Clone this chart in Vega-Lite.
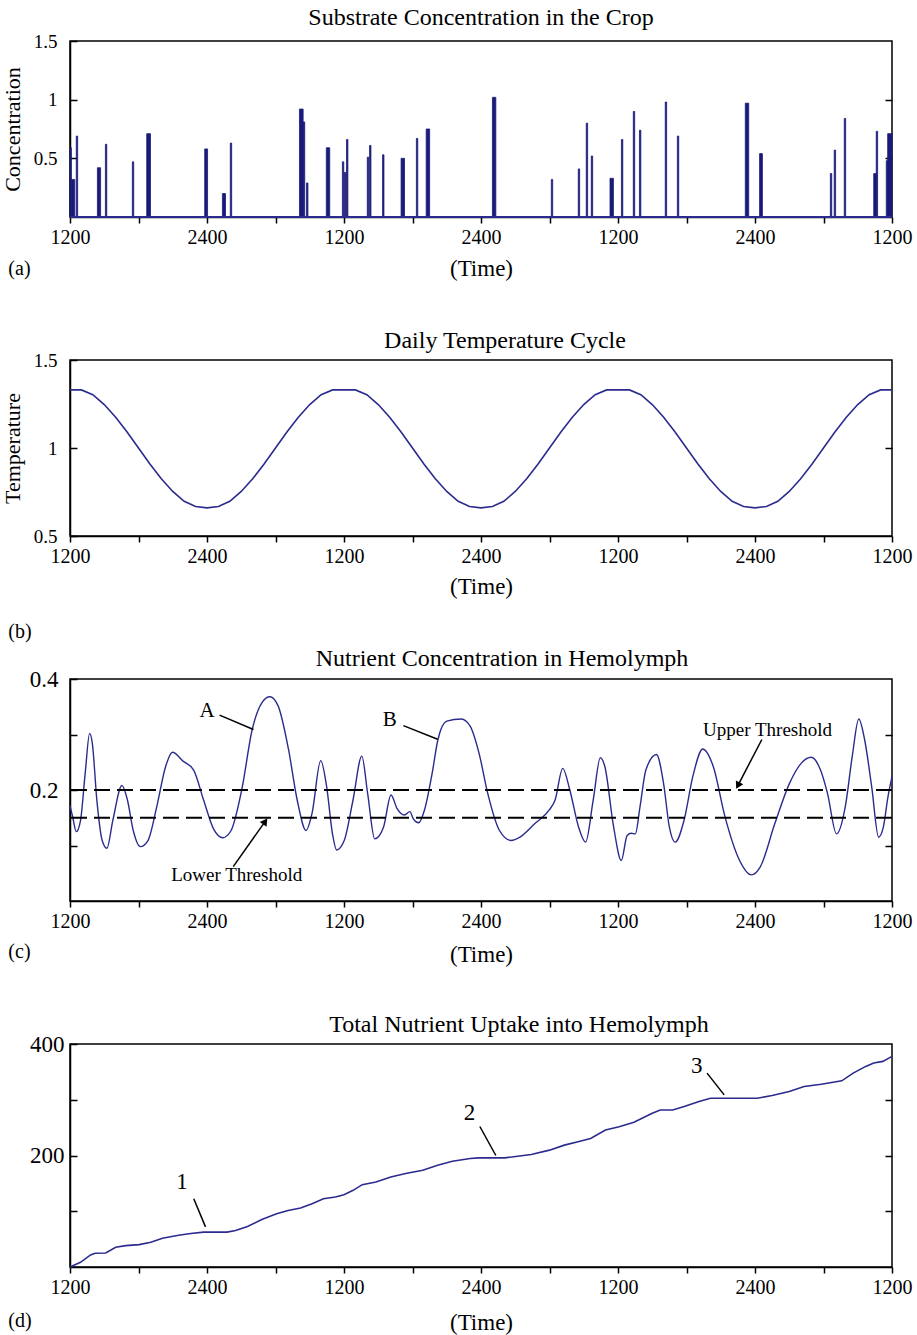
{
  "$schema": "https://vega.github.io/schema/vega-lite/v6.json",
  "background": "white",
  "padding": {"left": 0, "top": 5, "right": 4, "bottom": 2},
  "bounds": "flush",
  "spacing": 143,
  "datasets": {
    "a_bars": [
      {"start": 0.0, "end": 0.12, "c": 0.59}, {"start": 0.12, "end": 0.42, "c": 0.32}, {"start": 0.55, "end": 0.67, "c": 0.69},
      {"start": 2.4, "end": 2.68, "c": 0.42}, {"start": 3.1, "end": 3.22, "c": 0.62}, {"start": 5.46, "end": 5.58, "c": 0.47},
      {"start": 6.72, "end": 7.05, "c": 0.71}, {"start": 11.8, "end": 12.05, "c": 0.58}, {"start": 13.35, "end": 13.62, "c": 0.2},
      {"start": 14.04, "end": 14.16, "c": 0.63}, {"start": 20.1, "end": 20.42, "c": 0.92}, {"start": 20.42, "end": 20.56, "c": 0.81},
      {"start": 20.72, "end": 20.84, "c": 0.29}, {"start": 22.45, "end": 22.75, "c": 0.59}, {"start": 23.86, "end": 23.98, "c": 0.47},
      {"start": 24.04, "end": 24.16, "c": 0.38}, {"start": 24.22, "end": 24.34, "c": 0.66}, {"start": 26.04, "end": 26.16, "c": 0.51},
      {"start": 26.24, "end": 26.36, "c": 0.61}, {"start": 27.38, "end": 27.5, "c": 0.53}, {"start": 29.0, "end": 29.3, "c": 0.5},
      {"start": 30.34, "end": 30.46, "c": 0.67}, {"start": 31.2, "end": 31.5, "c": 0.75}, {"start": 37.0, "end": 37.3, "c": 1.02},
      {"start": 42.16, "end": 42.28, "c": 0.32}, {"start": 44.52, "end": 44.64, "c": 0.41}, {"start": 45.22, "end": 45.34, "c": 0.8},
      {"start": 45.66, "end": 45.78, "c": 0.52}, {"start": 47.3, "end": 47.6, "c": 0.33}, {"start": 48.3, "end": 48.42, "c": 0.66},
      {"start": 49.34, "end": 49.46, "c": 0.9}, {"start": 49.88, "end": 50.0, "c": 0.74}, {"start": 52.14, "end": 52.26, "c": 0.98},
      {"start": 53.2, "end": 53.32, "c": 0.69}, {"start": 59.15, "end": 59.45, "c": 0.97}, {"start": 60.4, "end": 60.65, "c": 0.54},
      {"start": 66.6, "end": 66.72, "c": 0.37}, {"start": 66.94, "end": 67.06, "c": 0.57}, {"start": 67.82, "end": 67.94, "c": 0.84},
      {"start": 70.4, "end": 70.62, "c": 0.37}, {"start": 70.62, "end": 70.74, "c": 0.73}, {"start": 71.5, "end": 71.62, "c": 0.48},
      {"start": 71.62, "end": 72.0, "c": 0.71}
    ],
    "a_base": [{"c": 0}],
    "a_tag": [{"t": -5.4, "v": -0.443, "label": "(a)"}],
    "b_temp": [
      {"t": 0, "v": 1.33}, {"t": 1, "v": 1.33}, {"t": 2, "v": 1.303}, {"t": 3, "v": 1.247}, {"t": 4, "v": 1.175}, {"t": 5, "v": 1.091},
      {"t": 6, "v": 1.0}, {"t": 7, "v": 0.909}, {"t": 8, "v": 0.825}, {"t": 9, "v": 0.753}, {"t": 10, "v": 0.697}, {"t": 11, "v": 0.668},
      {"t": 12, "v": 0.66}, {"t": 13, "v": 0.668}, {"t": 14, "v": 0.697}, {"t": 15, "v": 0.753}, {"t": 16, "v": 0.825}, {"t": 17, "v": 0.909},
      {"t": 18, "v": 1.0}, {"t": 19, "v": 1.091}, {"t": 20, "v": 1.175}, {"t": 21, "v": 1.247}, {"t": 22, "v": 1.303}, {"t": 23, "v": 1.33},
      {"t": 24, "v": 1.33}, {"t": 25, "v": 1.33}, {"t": 26, "v": 1.303}, {"t": 27, "v": 1.247}, {"t": 28, "v": 1.175}, {"t": 29, "v": 1.091},
      {"t": 30, "v": 1.0}, {"t": 31, "v": 0.909}, {"t": 32, "v": 0.825}, {"t": 33, "v": 0.753}, {"t": 34, "v": 0.697}, {"t": 35, "v": 0.668},
      {"t": 36, "v": 0.66}, {"t": 37, "v": 0.668}, {"t": 38, "v": 0.697}, {"t": 39, "v": 0.753}, {"t": 40, "v": 0.825}, {"t": 41, "v": 0.909},
      {"t": 42, "v": 1.0}, {"t": 43, "v": 1.091}, {"t": 44, "v": 1.175}, {"t": 45, "v": 1.247}, {"t": 46, "v": 1.303}, {"t": 47, "v": 1.33},
      {"t": 48, "v": 1.33}, {"t": 49, "v": 1.33}, {"t": 50, "v": 1.303}, {"t": 51, "v": 1.247}, {"t": 52, "v": 1.175}, {"t": 53, "v": 1.091},
      {"t": 54, "v": 1.0}, {"t": 55, "v": 0.909}, {"t": 56, "v": 0.825}, {"t": 57, "v": 0.753}, {"t": 58, "v": 0.697}, {"t": 59, "v": 0.668},
      {"t": 60, "v": 0.66}, {"t": 61, "v": 0.668}, {"t": 62, "v": 0.697}, {"t": 63, "v": 0.753}, {"t": 64, "v": 0.825}, {"t": 65, "v": 0.909},
      {"t": 66, "v": 1.0}, {"t": 67, "v": 1.091}, {"t": 68, "v": 1.175}, {"t": 69, "v": 1.247}, {"t": 70, "v": 1.303}, {"t": 71, "v": 1.33},
      {"t": 72, "v": 1.33}
    ],
    "b_tag": [{"t": -5.4, "v": -0.045, "label": "(b)"}],
    "c_nutr": [
      {"t": 0, "v": 0.172}, {"t": 0.25, "v": 0.15}, {"t": 0.55, "v": 0.125}, {"t": 0.92, "v": 0.145}, {"t": 1.33, "v": 0.23},
      {"t": 1.72, "v": 0.302}, {"t": 1.95, "v": 0.285}, {"t": 2.36, "v": 0.18}, {"t": 2.82, "v": 0.109}, {"t": 3.23, "v": 0.095},
      {"t": 3.75, "v": 0.145}, {"t": 4.55, "v": 0.208}, {"t": 5.03, "v": 0.182}, {"t": 5.54, "v": 0.127}, {"t": 6.16, "v": 0.098},
      {"t": 6.83, "v": 0.109}, {"t": 7.6, "v": 0.17}, {"t": 8.37, "v": 0.242}, {"t": 8.98, "v": 0.268}, {"t": 9.9, "v": 0.252},
      {"t": 10.83, "v": 0.236}, {"t": 11.7, "v": 0.182}, {"t": 12.57, "v": 0.13}, {"t": 13.39, "v": 0.114}, {"t": 14.11, "v": 0.127},
      {"t": 15.04, "v": 0.2}, {"t": 15.96, "v": 0.309}, {"t": 16.83, "v": 0.358}, {"t": 17.5, "v": 0.368}, {"t": 18.22, "v": 0.352},
      {"t": 19.14, "v": 0.273}, {"t": 19.9, "v": 0.182}, {"t": 20.68, "v": 0.127}, {"t": 21.2, "v": 0.158}, {"t": 21.96, "v": 0.253},
      {"t": 22.48, "v": 0.206}, {"t": 22.99, "v": 0.121}, {"t": 23.35, "v": 0.092}, {"t": 24.02, "v": 0.109}, {"t": 24.79, "v": 0.182},
      {"t": 25.56, "v": 0.261}, {"t": 26.07, "v": 0.194}, {"t": 26.69, "v": 0.112}, {"t": 27.46, "v": 0.133}, {"t": 28.12, "v": 0.191},
      {"t": 28.64, "v": 0.167}, {"t": 29.3, "v": 0.155}, {"t": 29.77, "v": 0.161}, {"t": 30.07, "v": 0.148}, {"t": 30.54, "v": 0.141},
      {"t": 31.05, "v": 0.164}, {"t": 31.72, "v": 0.23}, {"t": 32.23, "v": 0.291}, {"t": 33.0, "v": 0.324}, {"t": 34.28, "v": 0.328},
      {"t": 35.05, "v": 0.315}, {"t": 35.82, "v": 0.267}, {"t": 36.59, "v": 0.194}, {"t": 37.62, "v": 0.127}, {"t": 38.64, "v": 0.109},
      {"t": 39.41, "v": 0.115}, {"t": 40.7, "v": 0.139}, {"t": 41.98, "v": 0.164}, {"t": 42.49, "v": 0.182}, {"t": 43.16, "v": 0.239},
      {"t": 43.78, "v": 0.2}, {"t": 44.55, "v": 0.133}, {"t": 45.16, "v": 0.106}, {"t": 45.83, "v": 0.182}, {"t": 46.45, "v": 0.258},
      {"t": 46.85, "v": 0.242}, {"t": 47.62, "v": 0.133}, {"t": 48.29, "v": 0.073}, {"t": 48.8, "v": 0.118}, {"t": 49.16, "v": 0.122},
      {"t": 49.52, "v": 0.121}, {"t": 49.93, "v": 0.17}, {"t": 50.44, "v": 0.236}, {"t": 51.37, "v": 0.264}, {"t": 51.99, "v": 0.212},
      {"t": 52.5, "v": 0.133}, {"t": 53.01, "v": 0.106}, {"t": 53.78, "v": 0.145}, {"t": 54.55, "v": 0.224}, {"t": 55.42, "v": 0.274},
      {"t": 56.35, "v": 0.242}, {"t": 57.37, "v": 0.152}, {"t": 58.65, "v": 0.073}, {"t": 59.68, "v": 0.047}, {"t": 60.45, "v": 0.061},
      {"t": 61.73, "v": 0.139}, {"t": 63.02, "v": 0.212}, {"t": 64.04, "v": 0.248}, {"t": 64.92, "v": 0.259}, {"t": 65.74, "v": 0.236},
      {"t": 66.35, "v": 0.194}, {"t": 67.14, "v": 0.121}, {"t": 67.91, "v": 0.17}, {"t": 68.52, "v": 0.261}, {"t": 69.09, "v": 0.328},
      {"t": 69.6, "v": 0.291}, {"t": 70.22, "v": 0.206}, {"t": 70.83, "v": 0.115}, {"t": 71.24, "v": 0.133}, {"t": 71.65, "v": 0.188},
      {"t": 72.0, "v": 0.224}
    ],
    "c_thresholds": [{"threshold": "Upper Threshold", "v": 0.2}, {"threshold": "Lower Threshold", "v": 0.15}],
    "c_letters": [{"t": 12.0, "v": 0.342, "label": "A"}, {"t": 28.0, "v": 0.327, "label": "B"}],
    "c_thr_labels": [{"t": 61.1, "v": 0.309, "label": "Upper Threshold"}, {"t": 14.6, "v": 0.046, "label": "Lower Threshold"}],
    "c_leaders": [
      {"t1": 13.1, "v1": 0.335, "t2": 16.07, "v2": 0.309},
      {"t1": 29.2, "v1": 0.316, "t2": 32.2, "v2": 0.2915},
      {"t1": 60.6, "v1": 0.291, "t2": 58.5, "v2": 0.208},
      {"t1": 14.3, "v1": 0.062, "t2": 17.1, "v2": 0.1435}
    ],
    "c_head_upper": [{"t": 58.5, "v": 0.208}],
    "c_head_lower": [{"t": 17.1, "v": 0.1435}],
    "c_tag": [{"t": -5.4, "v": -0.092, "label": "(c)"}],
    "d_uptake": [
      {"t": 0, "v": 0}, {"t": 0.92, "v": 8.4}, {"t": 1.8, "v": 21.6}, {"t": 2.2, "v": 24.6}, {"t": 3.13, "v": 25.2},
      {"t": 4.0, "v": 35.4}, {"t": 4.88, "v": 38.4}, {"t": 6.06, "v": 40.2}, {"t": 7.08, "v": 44.4}, {"t": 8.1, "v": 51.6},
      {"t": 9.39, "v": 56.5}, {"t": 10.4, "v": 59.5}, {"t": 11.7, "v": 62.5}, {"t": 13.75, "v": 62.5}, {"t": 14.5, "v": 65.5},
      {"t": 15.55, "v": 72.7}, {"t": 16.8, "v": 85.3}, {"t": 18.1, "v": 95.5}, {"t": 19.1, "v": 101.5}, {"t": 20.2, "v": 105.7},
      {"t": 21.2, "v": 113.5}, {"t": 22.2, "v": 122.5}, {"t": 23.25, "v": 125.5}, {"t": 24.0, "v": 129.7}, {"t": 24.8, "v": 137.5},
      {"t": 25.6, "v": 147.7}, {"t": 26.8, "v": 152.6}, {"t": 28.1, "v": 161.6}, {"t": 29.4, "v": 167.6}, {"t": 30.9, "v": 173.6},
      {"t": 32.2, "v": 182.6}, {"t": 33.5, "v": 189.8}, {"t": 35.05, "v": 194.6}, {"t": 35.8, "v": 195.8}, {"t": 38.1, "v": 195.8},
      {"t": 39.2, "v": 198.8}, {"t": 40.4, "v": 201.8}, {"t": 42.0, "v": 209.6}, {"t": 43.3, "v": 218.6}, {"t": 44.5, "v": 224.6},
      {"t": 45.6, "v": 230.6}, {"t": 46.9, "v": 245.6}, {"t": 48.1, "v": 251.6}, {"t": 49.4, "v": 259.5}, {"t": 51.0, "v": 275.7},
      {"t": 51.7, "v": 281.7}, {"t": 52.8, "v": 281.7}, {"t": 53.8, "v": 287.7}, {"t": 55.1, "v": 296.7}, {"t": 56.1, "v": 302.7},
      {"t": 60.2, "v": 302.7}, {"t": 61.5, "v": 307.5}, {"t": 63.0, "v": 314.7}, {"t": 64.3, "v": 323.7}, {"t": 65.8, "v": 327.9},
      {"t": 67.6, "v": 333.9}, {"t": 68.6, "v": 347.7}, {"t": 69.7, "v": 359.8}, {"t": 70.4, "v": 365.8}, {"t": 71.2, "v": 368.8},
      {"t": 72.0, "v": 377.8}
    ],
    "d_labels": [{"t": 9.8, "v": 153, "label": "1"}, {"t": 35.0, "v": 275.7, "label": "2"}, {"t": 54.9, "v": 360, "label": "3"}],
    "d_leaders": [
      {"t1": 10.84, "v1": 122.5, "t2": 11.87, "v2": 72},
      {"t1": 35.9, "v1": 252, "t2": 37.3, "v2": 200},
      {"t1": 55.8, "v1": 347.7, "t2": 57.3, "v2": 308.7}
    ],
    "d_tag": [{"t": -5.4, "v": -97, "label": "(d)"}]
  },
  "vconcat": [
    {
      "width": 822, "height": 176,
      "title": {"text": "Substrate Concentration in the Crop", "offset": 2, "dx": 0},
      "resolve": {"axis": {"y": "independent"}},
      "layer": [
        {
          "data": {"name": "a_bars"},
          "mark": {"type": "rect", "color": "#1a1a7a", "stroke": "#1a1a7a", "strokeWidth": 0.8},
          "encoding": {
            "x": {"field": "start", "type": "quantitative", "scale": {"domain": [0, 72], "nice": false, "zero": false},
              "axis": {"values": [0, 6, 12, 18, 24, 30, 36, 42, 48, 54, 60, 66, 72], "labelExpr": "datum.value % 24 == 0 ? '1200' : (datum.value % 12 == 0 ? '2400' : '')", "labelFlush": false, "labelOverlap": false, "labelFontSize": 20, "labelPadding": 4, "tickSize": 6, "title": "(Time)", "titleFontSize": 23, "titlePadding": 10}},
            "x2": {"field": "end"},
            "y": {"field": "c", "type": "quantitative", "scale": {"domain": [0, 1.5], "nice": false},
              "axis": {"values": [0.5, 1, 1.5], "format": "~g", "labelFontSize": 19, "tickSize": -7, "labelPadding": 20, "title": "Concentration", "titleFontSize": 22, "titlePadding": 9}},
            "y2": {"datum": 0}
          }
        },
        {
          "data": {"name": "a_base"},
          "mark": {"type": "rule", "color": "#2a2a90", "strokeWidth": 2},
          "encoding": {
            "y": {"field": "c", "type": "quantitative", "scale": {"domain": [0, 1.5], "nice": false},
              "axis": {"orient": "right", "values": [0.5, 1], "labels": false, "domain": false, "tickSize": -7, "title": null}}
          }
        },
        {
          "data": {"name": "a_tag"},
          "mark": {"type": "text", "align": "left", "baseline": "middle", "fontSize": 20},
          "encoding": {
            "x": {"field": "t", "type": "quantitative", "scale": {"domain": [0, 72], "nice": false, "zero": false},
              "axis": {"values": [0, 6, 12, 18, 24, 30, 36, 42, 48, 54, 60, 66, 72], "labelExpr": "datum.value % 24 == 0 ? '1200' : (datum.value % 12 == 0 ? '2400' : '')", "labelFlush": false, "labelOverlap": false, "labelFontSize": 20, "labelPadding": 4, "tickSize": 6, "title": "(Time)", "titleFontSize": 23, "titlePadding": 10}},
            "y": {"field": "v", "type": "quantitative", "scale": {"domain": [0, 1.5], "nice": false}, "axis": null},
            "text": {"field": "label"}
          }
        }
      ]
    },
    {
      "width": 822, "height": 176,
      "title": {"text": "Daily Temperature Cycle", "offset": -2, "dx": 24},
      "resolve": {"axis": {"y": "independent"}},
      "layer": [
        {
          "data": {"name": "b_temp"},
          "mark": {"type": "line", "color": "#2b2b8e", "strokeWidth": 1.6},
          "encoding": {
            "x": {"field": "t", "type": "quantitative", "scale": {"domain": [0, 72], "nice": false, "zero": false},
              "axis": {"values": [0, 6, 12, 18, 24, 30, 36, 42, 48, 54, 60, 66, 72], "labelExpr": "datum.value % 24 == 0 ? '1200' : (datum.value % 12 == 0 ? '2400' : '')", "labelFlush": false, "labelOverlap": false, "labelFontSize": 20, "labelPadding": 4, "tickSize": 6, "title": "(Time)", "titleFontSize": 23, "titlePadding": 9}},
            "y": {"field": "v", "type": "quantitative", "scale": {"domain": [0.5, 1.5], "nice": false, "zero": false},
              "axis": {"values": [0.5, 1, 1.5], "format": "~g", "labelFontSize": 19, "tickSize": -7, "labelPadding": 20, "title": "Temperature", "titleFontSize": 22, "titlePadding": 9}}
          }
        },
        {
          "data": {"name": "b_tag"},
          "mark": {"type": "text", "align": "left", "baseline": "middle", "fontSize": 20},
          "encoding": {
            "x": {"field": "t", "type": "quantitative", "scale": {"domain": [0, 72], "nice": false, "zero": false},
              "axis": {"values": [0, 6, 12, 18, 24, 30, 36, 42, 48, 54, 60, 66, 72], "labelExpr": "datum.value % 24 == 0 ? '1200' : (datum.value % 12 == 0 ? '2400' : '')", "labelFlush": false, "labelOverlap": false, "labelFontSize": 20, "labelPadding": 4, "tickSize": 6, "title": "(Time)", "titleFontSize": 23, "titlePadding": 9}},
            "y": {"field": "v", "type": "quantitative", "scale": {"domain": [0.5, 1.5], "nice": false, "zero": false},
              "axis": {"orient": "right", "values": [1], "labels": false, "domain": false, "tickSize": -7, "title": null}},
            "text": {"field": "label"}
          }
        }
      ]
    },
    {
      "width": 822, "height": 222,
      "title": {"text": "Nutrient Concentration in Hemolymph", "offset": -3, "dx": 21},
      "resolve": {"axis": {"y": "independent"}},
      "layer": [
        {
          "data": {"name": "c_nutr"},
          "mark": {"type": "line", "color": "#2b2b8e", "strokeWidth": 1.4, "interpolate": "monotone"},
          "encoding": {
            "x": {"field": "t", "type": "quantitative", "scale": {"domain": [0, 72], "nice": false, "zero": false},
              "axis": {"values": [0, 6, 12, 18, 24, 30, 36, 42, 48, 54, 60, 66, 72], "labelExpr": "datum.value % 24 == 0 ? '1200' : (datum.value % 12 == 0 ? '2400' : '')", "labelFlush": false, "labelOverlap": false, "labelFontSize": 20, "labelPadding": 4, "tickSize": 6, "title": "(Time)", "titleFontSize": 23, "titlePadding": 12}},
            "y": {"field": "v", "type": "quantitative", "scale": {"domain": [0, 0.4], "nice": false},
              "axis": {"values": [0.1, 0.2, 0.3, 0.4], "format": "~g", "labelExpr": "(datum.value > 0.15 && datum.value < 0.25) || datum.value > 0.35 ? datum.label : ''", "labelFontSize": 23, "tickSize": -7, "labelPadding": 19, "title": null}}
          }
        },
        {
          "data": {"name": "c_thresholds"},
          "mark": {"type": "rule", "color": "#000", "strokeWidth": 2, "strokeDash": [16, 7]},
          "encoding": {
            "y": {"field": "v", "type": "quantitative", "scale": {"domain": [0, 0.4], "nice": false},
              "axis": {"orient": "right", "values": [0.1, 0.3], "labels": false, "domain": false, "tickSize": -7, "title": null}}
          }
        },
        {
          "data": {"name": "c_leaders"},
          "mark": {"type": "rule", "color": "#000", "strokeWidth": 1.5},
          "encoding": {
            "x": {"field": "t1", "type": "quantitative", "scale": {"domain": [0, 72], "nice": false, "zero": false},
              "axis": {"values": [0, 6, 12, 18, 24, 30, 36, 42, 48, 54, 60, 66, 72], "labelExpr": "datum.value % 24 == 0 ? '1200' : (datum.value % 12 == 0 ? '2400' : '')", "labelFlush": false, "labelOverlap": false, "labelFontSize": 20, "labelPadding": 4, "tickSize": 6, "title": "(Time)", "titleFontSize": 23, "titlePadding": 12}},
            "y": {"field": "v1", "type": "quantitative", "scale": {"domain": [0, 0.4], "nice": false}, "axis": null},
            "x2": {"field": "t2"},
            "y2": {"field": "v2"}
          }
        },
        {
          "data": {"name": "c_head_upper"},
          "mark": {"type": "point", "shape": "triangle-up", "filled": true, "color": "#000", "size": 70, "angle": 208, "opacity": 1},
          "encoding": {
            "x": {"field": "t", "type": "quantitative", "scale": {"domain": [0, 72], "nice": false, "zero": false},
              "axis": {"values": [0, 6, 12, 18, 24, 30, 36, 42, 48, 54, 60, 66, 72], "labelExpr": "datum.value % 24 == 0 ? '1200' : (datum.value % 12 == 0 ? '2400' : '')", "labelFlush": false, "labelOverlap": false, "labelFontSize": 20, "labelPadding": 4, "tickSize": 6, "title": "(Time)", "titleFontSize": 23, "titlePadding": 12}},
            "y": {"field": "v", "type": "quantitative", "scale": {"domain": [0, 0.4], "nice": false}, "axis": null}
          }
        },
        {
          "data": {"name": "c_head_lower"},
          "mark": {"type": "point", "shape": "triangle-up", "filled": true, "color": "#000", "size": 70, "angle": 35, "opacity": 1},
          "encoding": {
            "x": {"field": "t", "type": "quantitative", "scale": {"domain": [0, 72], "nice": false, "zero": false},
              "axis": {"values": [0, 6, 12, 18, 24, 30, 36, 42, 48, 54, 60, 66, 72], "labelExpr": "datum.value % 24 == 0 ? '1200' : (datum.value % 12 == 0 ? '2400' : '')", "labelFlush": false, "labelOverlap": false, "labelFontSize": 20, "labelPadding": 4, "tickSize": 6, "title": "(Time)", "titleFontSize": 23, "titlePadding": 12}},
            "y": {"field": "v", "type": "quantitative", "scale": {"domain": [0, 0.4], "nice": false}, "axis": null}
          }
        },
        {
          "data": {"name": "c_letters"},
          "mark": {"type": "text", "align": "center", "baseline": "middle", "fontSize": 21},
          "encoding": {
            "x": {"field": "t", "type": "quantitative", "scale": {"domain": [0, 72], "nice": false, "zero": false},
              "axis": {"values": [0, 6, 12, 18, 24, 30, 36, 42, 48, 54, 60, 66, 72], "labelExpr": "datum.value % 24 == 0 ? '1200' : (datum.value % 12 == 0 ? '2400' : '')", "labelFlush": false, "labelOverlap": false, "labelFontSize": 20, "labelPadding": 4, "tickSize": 6, "title": "(Time)", "titleFontSize": 23, "titlePadding": 12}},
            "y": {"field": "v", "type": "quantitative", "scale": {"domain": [0, 0.4], "nice": false}, "axis": null},
            "text": {"field": "label"}
          }
        },
        {
          "data": {"name": "c_thr_labels"},
          "mark": {"type": "text", "align": "center", "baseline": "middle", "fontSize": 19},
          "encoding": {
            "x": {"field": "t", "type": "quantitative", "scale": {"domain": [0, 72], "nice": false, "zero": false},
              "axis": {"values": [0, 6, 12, 18, 24, 30, 36, 42, 48, 54, 60, 66, 72], "labelExpr": "datum.value % 24 == 0 ? '1200' : (datum.value % 12 == 0 ? '2400' : '')", "labelFlush": false, "labelOverlap": false, "labelFontSize": 20, "labelPadding": 4, "tickSize": 6, "title": "(Time)", "titleFontSize": 23, "titlePadding": 12}},
            "y": {"field": "v", "type": "quantitative", "scale": {"domain": [0, 0.4], "nice": false}, "axis": null},
            "text": {"field": "label"}
          }
        },
        {
          "data": {"name": "c_tag"},
          "mark": {"type": "text", "align": "left", "baseline": "middle", "fontSize": 20},
          "encoding": {
            "x": {"field": "t", "type": "quantitative", "scale": {"domain": [0, 72], "nice": false, "zero": false},
              "axis": {"values": [0, 6, 12, 18, 24, 30, 36, 42, 48, 54, 60, 66, 72], "labelExpr": "datum.value % 24 == 0 ? '1200' : (datum.value % 12 == 0 ? '2400' : '')", "labelFlush": false, "labelOverlap": false, "labelFontSize": 20, "labelPadding": 4, "tickSize": 6, "title": "(Time)", "titleFontSize": 23, "titlePadding": 12}},
            "y": {"field": "v", "type": "quantitative", "scale": {"domain": [0, 0.4], "nice": false}, "axis": null},
            "text": {"field": "label"}
          }
        }
      ]
    },
    {
      "width": 822, "height": 223,
      "title": {"text": "Total Nutrient Uptake into Hemolymph", "offset": -4, "dx": 38},
      "resolve": {"axis": {"y": "independent"}},
      "layer": [
        {
          "data": {"name": "d_uptake"},
          "mark": {"type": "line", "color": "#2b2b8e", "strokeWidth": 1.6},
          "encoding": {
            "x": {"field": "t", "type": "quantitative", "scale": {"domain": [0, 72], "nice": false, "zero": false},
              "axis": {"values": [0, 6, 12, 18, 24, 30, 36, 42, 48, 54, 60, 66, 72], "labelExpr": "datum.value % 24 == 0 ? '1200' : (datum.value % 12 == 0 ? '2400' : '')", "labelFlush": false, "labelOverlap": false, "labelFontSize": 20, "labelPadding": 4, "tickSize": 6, "title": "(Time)", "titleFontSize": 23, "titlePadding": 14}},
            "y": {"field": "v", "type": "quantitative", "scale": {"domain": [0, 400], "nice": false},
              "axis": {"values": [100, 200, 300, 400], "labelExpr": "datum.value % 200 == 0 ? datum.label : ''", "labelFontSize": 23, "tickSize": -7, "labelPadding": 13, "title": null}}
          }
        },
        {
          "data": {"name": "d_leaders"},
          "mark": {"type": "rule", "color": "#000", "strokeWidth": 1.5},
          "encoding": {
            "x": {"field": "t1", "type": "quantitative", "scale": {"domain": [0, 72], "nice": false, "zero": false},
              "axis": {"values": [0, 6, 12, 18, 24, 30, 36, 42, 48, 54, 60, 66, 72], "labelExpr": "datum.value % 24 == 0 ? '1200' : (datum.value % 12 == 0 ? '2400' : '')", "labelFlush": false, "labelOverlap": false, "labelFontSize": 20, "labelPadding": 4, "tickSize": 6, "title": "(Time)", "titleFontSize": 23, "titlePadding": 14}},
            "y": {"field": "v1", "type": "quantitative", "scale": {"domain": [0, 400], "nice": false},
              "axis": {"orient": "right", "values": [100, 200, 300], "labels": false, "domain": false, "tickSize": -7, "title": null}},
            "x2": {"field": "t2"},
            "y2": {"field": "v2"}
          }
        },
        {
          "data": {"name": "d_labels"},
          "mark": {"type": "text", "align": "center", "baseline": "middle", "fontSize": 23},
          "encoding": {
            "x": {"field": "t", "type": "quantitative", "scale": {"domain": [0, 72], "nice": false, "zero": false},
              "axis": {"values": [0, 6, 12, 18, 24, 30, 36, 42, 48, 54, 60, 66, 72], "labelExpr": "datum.value % 24 == 0 ? '1200' : (datum.value % 12 == 0 ? '2400' : '')", "labelFlush": false, "labelOverlap": false, "labelFontSize": 20, "labelPadding": 4, "tickSize": 6, "title": "(Time)", "titleFontSize": 23, "titlePadding": 14}},
            "y": {"field": "v", "type": "quantitative", "scale": {"domain": [0, 400], "nice": false}, "axis": null},
            "text": {"field": "label"}
          }
        },
        {
          "data": {"name": "d_tag"},
          "mark": {"type": "text", "align": "left", "baseline": "middle", "fontSize": 20},
          "encoding": {
            "x": {"field": "t", "type": "quantitative", "scale": {"domain": [0, 72], "nice": false, "zero": false},
              "axis": {"values": [0, 6, 12, 18, 24, 30, 36, 42, 48, 54, 60, 66, 72], "labelExpr": "datum.value % 24 == 0 ? '1200' : (datum.value % 12 == 0 ? '2400' : '')", "labelFlush": false, "labelOverlap": false, "labelFontSize": 20, "labelPadding": 4, "tickSize": 6, "title": "(Time)", "titleFontSize": 23, "titlePadding": 14}},
            "y": {"field": "v", "type": "quantitative", "scale": {"domain": [0, 400], "nice": false}, "axis": null},
            "text": {"field": "label"}
          }
        }
      ]
    }
  ],
  "config": {
    "font": "Liberation Serif",
    "view": {"stroke": "#000", "strokeWidth": 1.5},
    "axis": {"grid": false, "domainColor": "#000", "domainWidth": 1.5, "tickColor": "#000", "tickWidth": 1.5, "labelColor": "#000", "titleColor": "#000", "titleFontWeight": "normal", "labelFont": "Liberation Serif", "titleFont": "Liberation Serif"},
    "title": {"font": "Liberation Serif", "fontWeight": "normal", "color": "#000", "fontSize": 24, "frame": "group"},
    "text": {"font": "Liberation Serif", "color": "#000"}
  }
}
